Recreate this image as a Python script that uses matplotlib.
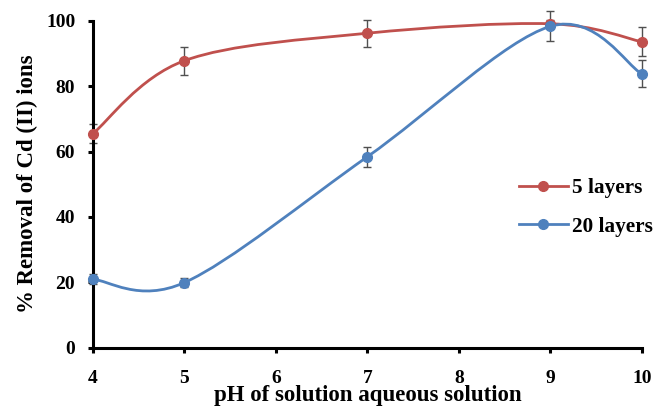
import numpy as np
import matplotlib.pyplot as plt
from matplotlib.path import Path
from matplotlib.patches import PathPatch

plt.rcParams['font.family'] = 'Liberation Serif'
plt.rcParams['font.weight'] = 'bold'

# pH values and removal (%) for the two membranes
ph = [4, 5, 7, 9, 10]
removal_5 = [65.5, 87.8, 96.2, 99.1, 93.6]
err_5 = [3.0, 4.3, 4.2, 1.0, 4.4]
removal_20 = [20.9, 19.9, 58.4, 98.3, 83.8]
err_20 = [1.5, 1.5, 3.0, 4.6, 4.1]

RED = '#C0504D'
BLUE = '#4F81BD'


def smooth_path(xs, ys):
    # cubic Bezier through the points, Catmull-Rom style control points
    pts = np.column_stack([xs, ys]).astype(float)
    ext = np.vstack([pts[0], pts, pts[-1]])
    verts = [pts[0]]
    codes = [Path.MOVETO]
    for i in range(1, len(ext) - 2):
        p0, p1, p2, p3 = ext[i - 1], ext[i], ext[i + 1], ext[i + 2]
        c1 = p1 + (p2 - p0) / 6.0
        c2 = p2 - (p3 - p1) / 6.0
        verts += [c1, c2, p2]
        codes += [Path.CURVE4] * 3
    return Path(verts, codes)


fig = plt.figure(figsize=(6.53, 4.08), dpi=100)
ax = fig.add_axes([0.1424, 0.148, 0.8403, 0.801])

for ys, es, col, lab in [(removal_5, err_5, RED, '5 layers'),
                         (removal_20, err_20, BLUE, '20 layers')]:
    ax.add_patch(PathPatch(smooth_path(ph, ys), facecolor='none',
                           edgecolor=col, lw=2.0, zorder=3, clip_on=False))
    ax.errorbar(ph, ys, yerr=es, fmt='none', ecolor='#505050', elinewidth=1.0,
                capsize=3.0, capthick=1.0, zorder=2, clip_on=False)
    ax.plot(ph, ys, 'o', color=col, ms=7, zorder=4, clip_on=False)
    ax.plot([], [], '-o', color=col, ms=7, lw=2.0, label=lab)

ax.set_xlim(4, 10)
ax.set_ylim(0, 100)
ax.set_xticks(range(4, 11))
ax.set_yticks(range(0, 101, 20))

for s in ['top', 'right']:
    ax.spines[s].set_visible(False)
for s in ['left', 'bottom']:
    ax.spines[s].set_linewidth(2.2)
ax.tick_params(direction='out', length=3.8, width=2.2, labelsize=14)
ax.tick_params(axis='y', pad=9)
ax.tick_params(axis='x', pad=12)
for t in ax.get_xticklabels() + ax.get_yticklabels():
    t.set_fontweight('bold')

ax.set_xlabel('pH of solution aqueous solution', fontsize=16.5, fontweight='bold', labelpad=-1)
ax.set_ylabel('% Removal of Cd (II) ions', fontsize=16.5, fontweight='bold', labelpad=6)

leg = ax.legend(loc='upper left', bbox_to_anchor=(0.757, 0.55), frameon=False,
                fontsize=15.3, handlelength=2.3, labelspacing=0.85, handletextpad=0.2,
                borderpad=0)
for t in leg.get_texts():
    t.set_fontweight('bold')

fig.savefig('out.png', dpi=100)
